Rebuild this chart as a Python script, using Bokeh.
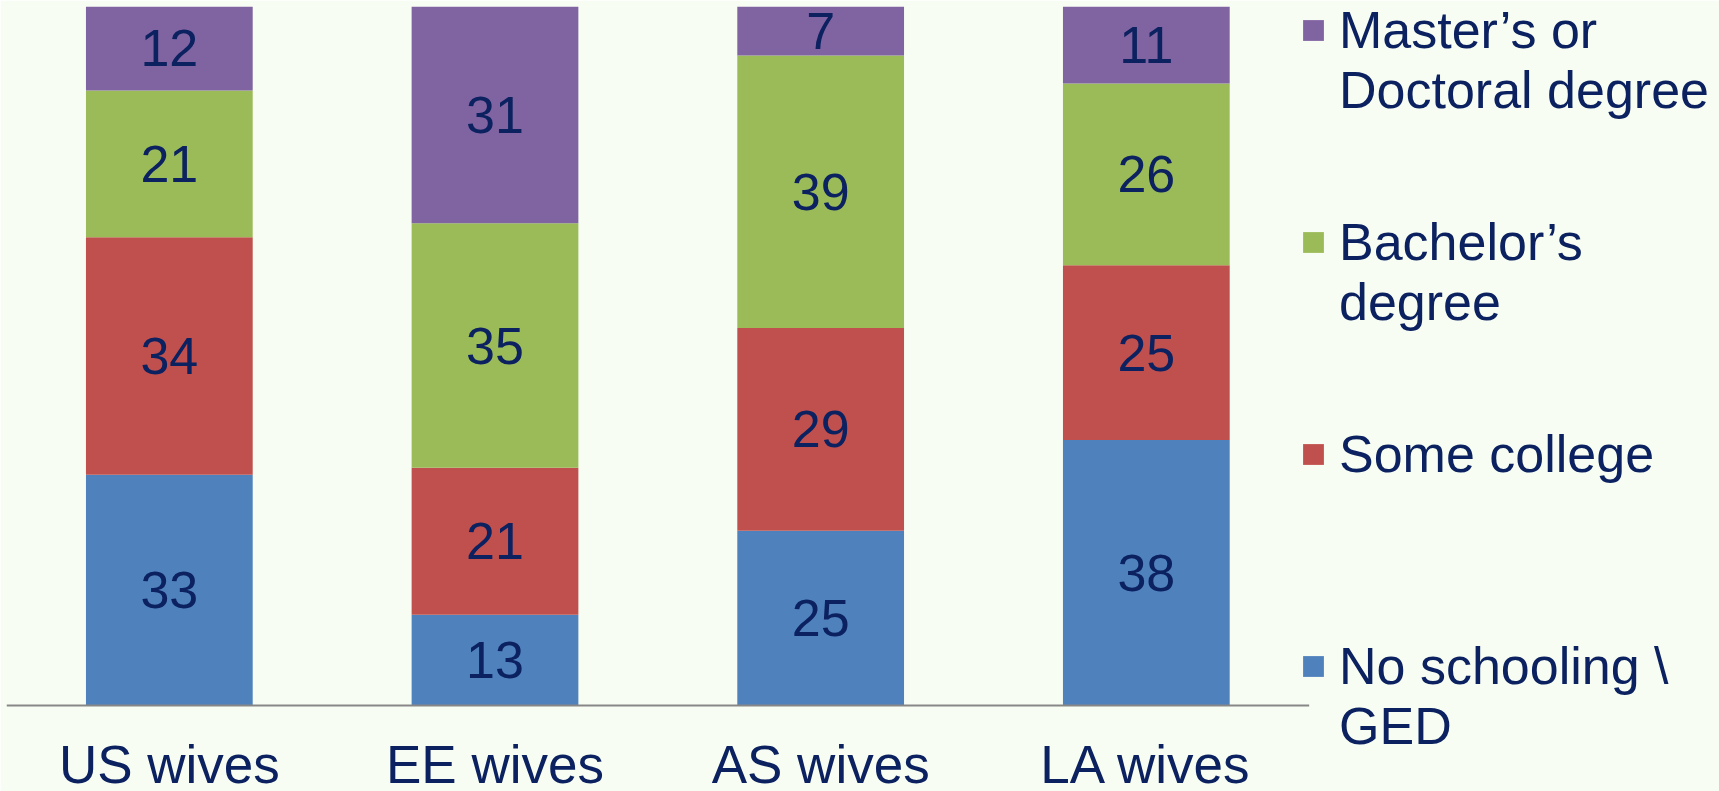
from bokeh.plotting import figure
from bokeh.models import ColumnDataSource, Legend, LegendItem, Range1d
from bokeh.core.properties import value
from bokeh.embed import file_html
from bokeh.resources import INLINE

# ---- data ----
groups = ["US wives", "EE wives", "AS wives", "LA wives"]
series_keys = ["no_schooling", "some_college", "bachelors", "masters"]
legend_lines = [["No schooling \\", "GED"], ["Some college"], ["Bachelor’s", "degree"],
                ["Master’s or", "Doctoral degree"]]
no_schooling = [33, 13, 25, 38]
some_college = [34, 21, 29, 25]
bachelors = [21, 35, 39, 26]
masters = [12, 31, 7, 11]
colors = ["#4F81BD", "#C0504D", "#9BBB59", "#8064A2"]

BG = "#F7FDF2"
TEXT = "#0B2160"
AXIS = "#878787"
FONT = "Liberation Sans"
NBSP = "\u00a0"
Y_MIN = -12.3          # room below the baseline for the category labels
CAT_LABEL_Y = -8.4     # vertical centre of the category labels (data units)
X_END = 4.76           # right part of the frame holds the legend

values = {"no_schooling": no_schooling, "some_college": some_college,
          "bachelors": bachelors, "masters": masters}
x_pos = list(range(len(groups)))
data = {"x": x_pos, "group": groups}
data.update(values)
source = ColumnDataSource(data)

p = figure(x_range=Range1d(-0.5, X_END), y_range=Range1d(Y_MIN, 100),
           width=1719, height=791, output_backend="svg", toolbar_location=None,
           x_axis_location=None, y_axis_location=None, min_border_left=6, min_border_top=6,
           min_border_right=0, min_border_bottom=0,
           background_fill_color=BG, border_fill_color=BG, outline_line_color=None)
p.xgrid.visible = False
p.ygrid.visible = False
p.xgrid.grid_line_color = None
p.ygrid.grid_line_color = None

renderers = p.vbar_stack(series_keys, x="x", width=0.512, color=colors,
                         line_color=None, source=source)

# category baseline spanning the four category slots
p.segment(x0=[x_pos[0] - 0.5], x1=[x_pos[-1] + 0.5], y0=[0], y1=[0],
          line_color=AXIS, line_width=2)

# category labels under the baseline
p.text(x=x_pos, y=[CAT_LABEL_Y] * len(groups), text=groups, text_align="center",
       text_baseline="middle", text_font=value(FONT), text_font_size="53px",
       text_color=TEXT)

# value labels centred in each segment
lab_x, lab_y, lab_t = [], [], []
bottoms = [0] * len(groups)
for key in series_keys:
    vals = values[key]
    for i in x_pos:
        lab_x.append(i)
        lab_y.append(bottoms[i] + vals[i] / 2)
        lab_t.append(str(vals[i]))
        bottoms[i] += vals[i]
p.text(x=lab_x, y=lab_y, text=lab_t, text_align="center", text_baseline="middle",
       text_font=value(FONT), text_font_size="52px", text_color=TEXT)

# legend: square aligned with the first line of each entry (centre line of 3)
def legend_text(lines):
    padded = [NBSP] + list(lines) + [NBSP] * (2 - len(lines))
    return "\n".join(padded)

items = [LegendItem(label=legend_text(legend_lines[k]), renderers=[renderers[k]])
         for k in range(3, -1, -1)]
legend = Legend(items=items, location=(1294, 35), glyph_width=26, glyph_height=26,
                label_text_font=FONT, label_text_font_size="52px", label_text_color=TEXT,
                label_text_line_height=1.15, label_standoff=13, padding=0, margin=0,
                spacing=32, border_line_color=None, background_fill_alpha=0)
p.add_layout(legend)

open("out.html", "w").write(file_html(p, INLINE))
